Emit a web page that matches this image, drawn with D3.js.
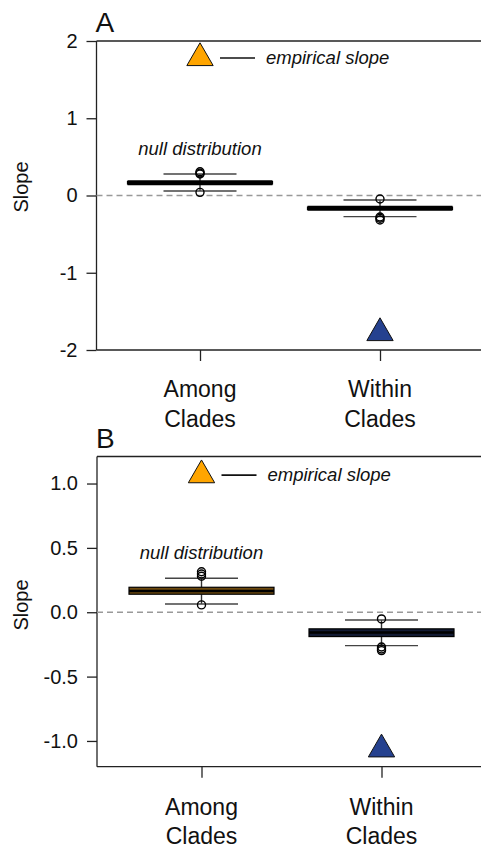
<!DOCTYPE html>
<html>
<head>
<meta charset="utf-8">
<script src="https://cdn.jsdelivr.net/npm/d3@7"></script>
<style>
  html, body { margin: 0; padding: 0; background: #fff; overflow: hidden; }
  svg { display: block; font-family: "Liberation Sans", Arial, Helvetica, sans-serif; }
</style>
</head>
<body>
<svg id="chart" width="481" height="848"></svg>
<script>
// ---------- data ----------
const categories = ["Among Clades", "Within Clades"];
const categoryLines = [["Among", "Clades"], ["Within", "Clades"]];

// Panel A
const ticksA = [-2, -1, 0, 1, 2];
const tickLabelsA = ["-2", "-1", "0", "1", "2"];
const q1A = [0.150, -0.181];
const medianA = [0.165, -0.166];
const q3A = [0.180, -0.151];
const whiskerLowA = [0.058, -0.274];
const whiskerHighA = [0.278, -0.058];
const outliersA = [[0.308, 0.290, 0.278, 0.041], [-0.045, -0.278, -0.295, -0.317]];
const empiricalA = [1.78, -1.78];

// Panel B
const ticksB = [-1, -0.5, 0, 0.5, 1];
const tickLabelsB = ["-1.0", "-0.5", "0.0", "0.5", "1.0"];
const q1B = [0.140, -0.189];
const medianB = [0.165, -0.158];
const q3B = [0.194, -0.129];
const whiskerLowB = [0.064, -0.259];
const whiskerHighB = [0.264, -0.060];
const outliersB = [[0.315, 0.297, 0.280, 0.057], [-0.052, -0.270, -0.285, -0.298]];
const empiricalB = [1.065, -1.065];

const empiricalColors = ["#FFA500", "#25418f"];

const svg = d3.select("#chart");

function panel(cfg) {
  const g = svg.append("g");
  const y = d3.scaleLinear().domain(cfg.yDomain).range([cfg.bottom, cfg.top]);
  const x = d3.scaleLinear().domain([1, 2]).range(cfg.xRange);
  const left = cfg.left, right = 500;

  // frame: top border + bottom line
  g.append("line").attr("x1", left).attr("x2", right).attr("y1", cfg.top).attr("y2", cfg.top)
    .attr("stroke", "#222").attr("stroke-width", 1.3);
  g.append("line").attr("x1", left).attr("x2", right).attr("y1", cfg.bottom).attr("y2", cfg.bottom)
    .attr("stroke", "#222").attr("stroke-width", 1.3);

  // y axis
  const ya = g.append("g").attr("transform", `translate(${left},0)`)
    .call(d3.axisLeft(y).tickValues(cfg.ticks).tickFormat((d, i) => cfg.tickLabels[i])
      .tickSize(10).tickPadding(9).tickSizeOuter(0));
  ya.select(".domain").attr("d", `M0,${cfg.top}V${cfg.bottom}`).attr("stroke", "#222").attr("stroke-width", 1.3);
  ya.selectAll(".tick line").attr("stroke", "#222").attr("stroke-width", 1.3);
  ya.selectAll(".tick text").attr("font-size", cfg.tickFont).attr("fill", "#111")
    .attr("font-family", '"Liberation Sans", Arial, sans-serif');

  // x axis
  const xa = g.append("g").attr("transform", `translate(0,${cfg.bottom})`)
    .call(d3.axisBottom(x).tickValues([1, 2]).tickFormat(() => "").tickSize(11).tickSizeOuter(0));
  xa.select(".domain").remove();
  xa.selectAll(".tick line").attr("stroke", "#222").attr("stroke-width", 1.3);

  categoryLines.forEach((lines, i) => {
    const t = g.append("text").attr("text-anchor", "middle").attr("font-size", cfg.catFont).attr("fill", "#111");
    lines.forEach((s, j) => {
      t.append("tspan").attr("x", x(i + 1)).attr("y", cfg.catBase + j * cfg.catStep).text(s);
    });
  });

  // zero reference line
  g.append("line").attr("x1", left).attr("x2", right).attr("y1", y(0)).attr("y2", y(0))
    .attr("stroke", "#999").attr("stroke-width", 1.4).attr("stroke-dasharray", "6,4");

  // boxplots
  const half = 72.5, stapleHalf = 36.5;
  categories.forEach((c, i) => {
    const cx = x(i + 1);
    // whisker
    g.append("line").attr("x1", cx).attr("x2", cx).attr("y1", y(cfg.q3[i])).attr("y2", y(cfg.wh[i]))
      .attr("stroke", "#333").attr("stroke-width", 1.4);
    g.append("line").attr("x1", cx).attr("x2", cx).attr("y1", y(cfg.q1[i])).attr("y2", y(cfg.wl[i]))
      .attr("stroke", "#333").attr("stroke-width", 1.4);
    [cfg.wl[i], cfg.wh[i]].forEach(v => {
      g.append("line").attr("x1", cx - stapleHalf).attr("x2", cx + stapleHalf).attr("y1", y(v)).attr("y2", y(v))
        .attr("stroke", "#444").attr("stroke-width", 1.4);
    });
    // box
    g.append("rect").attr("x", cx - half).attr("width", 2 * half)
      .attr("y", y(cfg.q3[i])).attr("height", y(cfg.q1[i]) - y(cfg.q3[i]))
      .attr("fill", cfg.boxFill[i]).attr("stroke", "#000").attr("stroke-width", 1.2);
    g.append("line").attr("x1", cx - half).attr("x2", cx + half).attr("y1", y(cfg.med[i])).attr("y2", y(cfg.med[i]))
      .attr("stroke", "#000").attr("stroke-width", cfg.medWidth);
    // outliers
    cfg.out[i].forEach(v => {
      g.append("circle").attr("cx", cx).attr("cy", y(v)).attr("r", 4)
        .attr("fill", "none").attr("stroke", "#000").attr("stroke-width", 1.4);
    });
    // empirical triangle
    g.append("path").attr("d", d3.symbol().type(d3.symbolTriangle).size(300)())
      .attr("transform", `translate(${cx},${y(cfg.emp[i])})`)
      .attr("fill", empiricalColors[i]).attr("stroke", "#111").attr("stroke-width", 1);
  });

  // annotations
  const ey = y(cfg.emp[0]);
  g.append("line").attr("x1", cfg.xRange[0] + 20).attr("x2", cfg.xRange[0] + 55).attr("y1", ey).attr("y2", ey)
    .attr("stroke", "#111").attr("stroke-width", 1.6);
  g.append("text").attr("x", cfg.xRange[0] + 66).attr("y", ey + 6).attr("font-size", 18.5)
    .attr("font-style", "italic").attr("fill", "#111").text("empirical slope");
  g.append("text").attr("x", cfg.xRange[0]).attr("y", cfg.nullBase).attr("text-anchor", "middle")
    .attr("font-size", 18.5).attr("font-style", "italic").attr("fill", "#111").text("null distribution");

  // y label
  g.append("text").attr("transform", `translate(28,${cfg.yLabelY}) rotate(-90)`)
    .attr("text-anchor", "middle").attr("font-size", 20).attr("fill", "#111").text("Slope");

  // panel letter
  g.append("text").attr("x", left - 1).attr("y", cfg.letterBase).attr("font-size", 28)
    .attr("fill", "#111").text(cfg.letter);
}

panel({
  letter: "A", letterBase: 32,
  top: 41, bottom: 350, left: 96.5, xRange: [200, 380], yDomain: [-2, 2],
  ticks: ticksA, tickLabels: tickLabelsA, tickFont: 20,
  q1: q1A, med: medianA, q3: q3A, wl: whiskerLowA, wh: whiskerHighA, out: outliersA, emp: empiricalA,
  boxFill: ["#000", "#000"], medWidth: 5,
  catFont: 23, catBase: 397, catStep: 30, nullBase: 155, yLabelY: 187
});

panel({
  letter: "B", letterBase: 448,
  top: 456.5, bottom: 766.7, left: 97, xRange: [201.5, 381.5], yDomain: [-1.2, 1.21],
  ticks: ticksB, tickLabels: tickLabelsB, tickFont: 20,
  q1: q1B, med: medianB, q3: q3B, wl: whiskerLowB, wh: whiskerHighB, out: outliersB, emp: empiricalB,
  boxFill: ["#6e4a0e", "#121a33"], medWidth: 2.5,
  catFont: 23, catBase: 815, catStep: 29, nullBase: 559, yLabelY: 605
});
</script>
</body>
</html>
